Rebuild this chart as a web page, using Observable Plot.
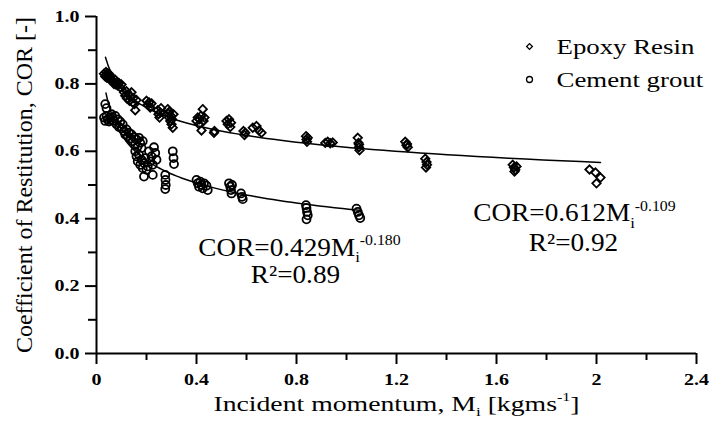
<!DOCTYPE html>
<html>
<head>
<meta charset="utf-8">
<script src="https://cdn.jsdelivr.net/npm/d3@7"></script>
<script src="https://cdn.jsdelivr.net/npm/@observablehq/plot@0.6"></script>
<style>
  html, body { margin: 0; padding: 0; background: #fff; }
  #chart svg { display: block; }
  #chart g[aria-label="x-axis tick label"], #chart g[aria-label="y-axis tick label"] { font-weight: bold; }
  #chart g[aria-label="x-axis tick"], #chart g[aria-label="y-axis tick"] { stroke-width: 2px; }
</style>
</head>
<body>
<div id="chart"></div>
<script>
// Coefficient of restitution versus incident momentum, two grout materials.

// [incident momentum (kg m/s), COR]
const epoxyPoints = [
  [0.030, 0.830], [0.035, 0.822], [0.038, 0.835], [0.040, 0.828], [0.042, 0.818], [0.045, 0.832],
  [0.048, 0.825], [0.050, 0.815], [0.052, 0.828], [0.055, 0.820], [0.058, 0.812],
  [0.065, 0.808], [0.070, 0.800], [0.075, 0.812], [0.078, 0.798], [0.082, 0.805], [0.085, 0.795],
  [0.090, 0.802], [0.095, 0.790], [0.100, 0.798],
  [0.110, 0.775], [0.115, 0.765], [0.120, 0.778], [0.122, 0.757], [0.128, 0.770], [0.132, 0.750],
  [0.135, 0.762], [0.140, 0.775], [0.145, 0.745], [0.148, 0.758], [0.152, 0.740], [0.155, 0.722],
  [0.160, 0.752],
  [0.200, 0.750], [0.205, 0.738], [0.210, 0.745], [0.215, 0.730], [0.220, 0.742],
  [0.245, 0.722], [0.248, 0.710], [0.252, 0.700], [0.255, 0.715], [0.258, 0.728],
  [0.285, 0.725], [0.288, 0.712], [0.290, 0.700], [0.292, 0.718], [0.295, 0.690], [0.298, 0.705],
  [0.300, 0.680], [0.302, 0.695], [0.305, 0.670], [0.308, 0.710],
  [0.400, 0.690], [0.405, 0.700], [0.410, 0.680], [0.412, 0.695], [0.418, 0.705], [0.420, 0.662],
  [0.425, 0.725], [0.428, 0.690], [0.432, 0.700],
  [0.470, 0.655], [0.472, 0.660],
  [0.520, 0.690], [0.525, 0.680], [0.530, 0.695], [0.535, 0.672], [0.538, 0.685],
  [0.588, 0.660], [0.592, 0.648], [0.595, 0.655],
  [0.625, 0.670], [0.640, 0.675], [0.650, 0.662], [0.660, 0.655],
  [0.838, 0.645], [0.840, 0.635], [0.842, 0.628], [0.845, 0.640],
  [0.915, 0.625], [0.925, 0.628], [0.935, 0.624], [0.945, 0.626],
  [1.045, 0.640], [1.048, 0.625], [1.050, 0.612], [1.052, 0.603], [1.050, 0.620],
  [1.235, 0.628], [1.240, 0.618], [1.245, 0.612], [1.242, 0.622],
  [1.315, 0.578], [1.320, 0.568], [1.322, 0.560], [1.318, 0.552],
  [1.665, 0.560], [1.670, 0.552], [1.675, 0.545], [1.680, 0.555], [1.672, 0.540],
  [1.972, 0.546], [1.996, 0.537], [2.016, 0.522], [2.000, 0.505]
];

const cementPoints = [
  [0.035, 0.740], [0.040, 0.728], [0.030, 0.700], [0.035, 0.690], [0.040, 0.705], [0.045, 0.695],
  [0.050, 0.688], [0.055, 0.700], [0.058, 0.692], [0.060, 0.710],
  [0.065, 0.700], [0.070, 0.690], [0.075, 0.705], [0.080, 0.680], [0.085, 0.695], [0.090, 0.672],
  [0.095, 0.688], [0.100, 0.668], [0.105, 0.680], [0.110, 0.660],
  [0.115, 0.650], [0.120, 0.665], [0.125, 0.645], [0.130, 0.655], [0.135, 0.638], [0.140, 0.650],
  [0.145, 0.630], [0.150, 0.642], [0.155, 0.620], [0.160, 0.635], [0.165, 0.615], [0.170, 0.640],
  [0.175, 0.625], [0.180, 0.610], [0.185, 0.630],
  [0.155, 0.600], [0.160, 0.585], [0.165, 0.570], [0.170, 0.590], [0.175, 0.560], [0.180, 0.575],
  [0.185, 0.550], [0.190, 0.565], [0.195, 0.580], [0.200, 0.545], [0.205, 0.555], [0.210, 0.600],
  [0.215, 0.570], [0.220, 0.585], [0.225, 0.560], [0.230, 0.612], [0.235, 0.595], [0.240, 0.575],
  [0.190, 0.525], [0.225, 0.530],
  [0.275, 0.530], [0.276, 0.515], [0.277, 0.500], [0.275, 0.488],
  [0.305, 0.600], [0.308, 0.580], [0.310, 0.562],
  [0.400, 0.515], [0.405, 0.505], [0.410, 0.495], [0.415, 0.510], [0.420, 0.500], [0.425, 0.490],
  [0.430, 0.505], [0.440, 0.498], [0.445, 0.485],
  [0.530, 0.505], [0.535, 0.495], [0.538, 0.485], [0.540, 0.475], [0.542, 0.500],
  [0.578, 0.475], [0.582, 0.465], [0.585, 0.458],
  [0.838, 0.440], [0.840, 0.432], [0.842, 0.420], [0.845, 0.410], [0.840, 0.398],
  [1.040, 0.430], [1.045, 0.420], [1.050, 0.410], [1.055, 0.402]
];

const seriesNames = ["Epoxy Resin", "Cement grout"];
// power-law fits COR = a * Mi^b
const fitA = [0.612, 0.429];
const fitB = [-0.109, -0.180];
const fitR2 = [0.92, 0.89];
const fitStart = [0.036, 0.038];
const fitEnd = [2.016, 1.052];

const xTicks = [0, 0.4, 0.8, 1.2, 1.6, 2, 2.4];
const xMinorTicks = [0.2, 0.6, 1.0, 1.4, 1.8, 2.2];
const yTicks = [0, 0.2, 0.4, 0.6, 0.8, 1.0];
const yMinorTicks = [0.1, 0.3, 0.5, 0.7, 0.9];

const xTitle = "Incident momentum, M{_i} [kgms{^-1}]";
const yTitle = "Coefficient of Restitution, COR [-]";

const epoxy = epoxyPoints.map(([m, c]) => ({m, c}));
const cement = cementPoints.map(([m, c]) => ({m, c}));

// sample each fitted curve geometrically so the steep low-momentum part stays smooth
const fitCurves = seriesNames.flatMap((name, k) => d3.range(0, 101).map(j => {
  const m = fitStart[k] * Math.pow(fitEnd[k] / fitStart[k], j / 100);
  return {series: name, m, c: fitA[k] * Math.pow(m, fitB[k])};
}));

const eqText = seriesNames.map((_, k) => `COR=${fitA[k].toFixed(3)}M{_i}{^${fitB[k].toFixed(3)}}`);
const r2Text = seriesNames.map((_, k) => `R\u00b2=${fitR2[k].toFixed(2)}`);

const font = "'Liberation Serif', 'Times New Roman', Times, serif";

// text sizes, each with the horizontal widening its lettering gets
const tickFontSize = 16, legendFontSize = 22, eqFontSize = 25, xTitleFontSize = 21.5, yTitleFontSize = 24;
const widenBySize = new Map([[tickFontSize, 1.25], [legendFontSize, 1.22], [eqFontSize, 1.09], [xTitleFontSize, 1.29]]);

const chart = Plot.plot({
  width: 714,
  height: 421,
  marginLeft: 96,
  marginRight: 18,
  marginTop: 16,
  marginBottom: 68,
  style: {fontFamily: font, fontSize: "16px", color: "black", background: "white", overflow: "visible"},
  x: {domain: [0, 2.4]},
  y: {domain: [0, 1]},
  marks: [
    Plot.axisX({ticks: xMinorTicks, tickSize: 7, tickFormat: () => "", label: null}),
    Plot.axisX({ticks: xTicks, tickSize: 11, tickPadding: 9, tickFormat: d => String(d), label: null, fontSize: tickFontSize}),
    Plot.axisY({ticks: yMinorTicks, tickSize: 8, tickFormat: () => "", label: null}),
    Plot.axisY({ticks: yTicks, tickSize: 11, tickPadding: 6, tickFormat: d3.format(".1f"), label: null, fontSize: tickFontSize}),
    Plot.ruleX([0], {stroke: "black", strokeWidth: 2}),
    Plot.ruleY([0], {stroke: "black", strokeWidth: 2}),

    Plot.dot(epoxy, {x: "m", y: "c", symbol: "diamond2", r: 3.8, stroke: "black", strokeWidth: 1.8}),
    Plot.dot(cement, {x: "m", y: "c", symbol: "circle", r: 4, stroke: "black", strokeWidth: 1.8}),
    Plot.line(fitCurves, {x: "m", y: "c", z: "series", stroke: "black", strokeWidth: 1.5}),

    // legend
    Plot.dot([seriesNames[0]], {x: 1.732, y: 0.911, symbol: "diamond2", r: 2.6, stroke: "black", strokeWidth: 1.3}),
    Plot.dot([seriesNames[1]], {x: 1.732, y: 0.813, symbol: "circle", r: 3.0, stroke: "black", strokeWidth: 1.3}),
    Plot.text([seriesNames[0]], {x: 1.84, y: 0.911, text: d => d, textAnchor: "start", fontSize: legendFontSize}),
    Plot.text([seriesNames[1]], {x: 1.84, y: 0.813, text: d => d, textAnchor: "start", fontSize: legendFontSize}),

    // fit equations
    Plot.text([eqText[0]], {x: 1.912, y: 0.392, text: d => d, lineAnchor: "bottom", fontSize: eqFontSize}),
    Plot.text([r2Text[0]], {x: 1.908, y: 0.304, text: d => d, lineAnchor: "bottom", fontSize: eqFontSize}),
    Plot.text([eqText[1]], {x: 0.812, y: 0.290, text: d => d, lineAnchor: "bottom", fontSize: eqFontSize}),
    Plot.text([r2Text[1]], {x: 0.796, y: 0.208, text: d => d, lineAnchor: "bottom", fontSize: eqFontSize}),

    // axis titles
    Plot.text([xTitle], {frameAnchor: "bottom", dy: 57, text: d => d, fontSize: xTitleFontSize, textAnchor: "middle"}),
    Plot.text([yTitle], {frameAnchor: "left", dx: -72, rotate: -90, text: d => d, fontSize: yTitleFontSize, textAnchor: "middle"})
  ]
});

document.getElementById("chart").appendChild(chart);

const NS = "http://www.w3.org/2000/svg";

// turn {_x} and {^x} markers into subscript / superscript tspans
function richText(t) {
  const src = t.textContent;
  if (!/\{[_^]/.test(src)) return;
  const fs = parseFloat(getComputedStyle(t).fontSize);
  while (t.firstChild) t.removeChild(t.firstChild);
  let level = 0;
  for (const part of src.split(/(\{[_^][^}]*\})/)) {
    if (!part) continue;
    const m = part.match(/^\{([_^])([^}]*)\}$/);
    const target = m ? (m[1] === "_" ? 0.26 * fs : -0.42 * fs) : 0;
    const ts = document.createElementNS(NS, "tspan");
    ts.setAttribute("dy", (target - level).toFixed(2));
    level = target;
    if (m) ts.setAttribute("font-size", ((m[1] === "_" ? 0.62 : 0.58) * fs).toFixed(2));
    ts.textContent = m ? m[2] : part;
    t.appendChild(ts);
  }
}

// the serif lettering is set slightly wide: scale each label horizontally about its anchor
for (const t of Array.from(chart.querySelectorAll("text"))) {
  const fs = parseFloat(getComputedStyle(t).fontSize);
  richText(t);
  const s = widenBySize.get(fs);
  if (!s || !t.textContent) continue;
  const tr = t.getAttribute("transform") || "";
  const x = parseFloat(t.getAttribute("x")) || 0;
  t.setAttribute("transform", `${tr} translate(${x},0) scale(${s},1) translate(${-x},0)`.trim());
}
</script>
</body>
</html>
